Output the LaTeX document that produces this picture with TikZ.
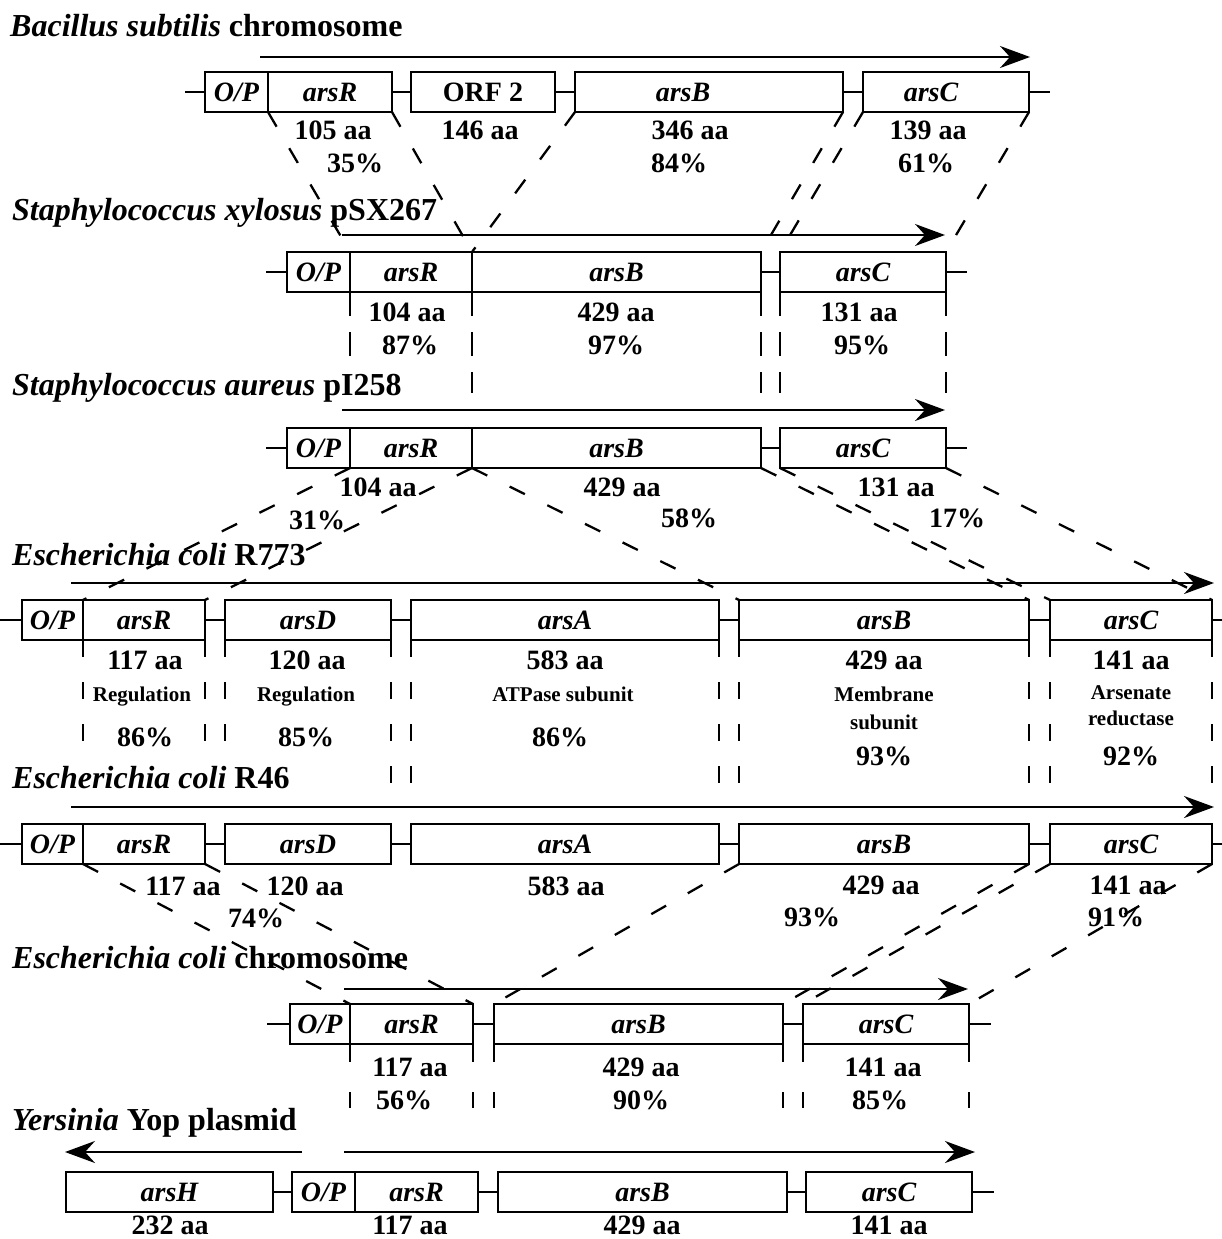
\documentclass[tikz,border=0pt]{standalone}
\usepackage{fontspec}
\setmainfont{Liberation Serif}
\usetikzlibrary{arrows.meta}
\newcommand\genebox[5]{\node[gene,minimum width={#3-#2}] (#1) at ({(#2+#3)/2},#4) {#5};}
\begin{document}
\begin{tikzpicture}[x=1pt,y=-1pt,
 gene/.style={draw,line width=2pt,minimum height=40pt,inner sep=0pt,outer sep=0pt,
   font=\bfseries\itshape\fontsize{28}{30}\selectfont,text height=19pt,text depth=0pt},
 gtext/.style={inner sep=0pt,font=\bfseries\itshape\fontsize{28}{30}\selectfont,text height=19pt,text depth=0pt},
 lab/.style={inner sep=0pt,font=\bfseries\fontsize{28}{30}\selectfont,text height=19pt,text depth=0pt},
 desc/.style={inner sep=0pt,font=\bfseries\fontsize{21}{23}\selectfont,text height=14pt,text depth=0pt},
 ttl/.style={inner sep=0pt,anchor=base west,font=\bfseries\fontsize{32}{34}\selectfont},
 link/.style={line width=2pt},
 arr/.style={line width=2.2pt,-{Stealth[length=30pt,width=22pt,inset=10pt]}},
 hom/.style={line width=2.3pt,dash pattern=on 17pt off 25pt},
 vB/.style={line width=2.3pt,dash pattern=on 24pt off 16pt},
 vD/.style={line width=2.3pt,dash pattern=on 17pt off 25pt},
 vF/.style={line width=2.3pt,dash pattern=on 18pt off 30pt}]
\fill[white] (0,0) rectangle (1222,1239);
\useasboundingbox (0,0) rectangle (1222,1239);

% ---------- Row A: Bacillus subtilis ----------
\node[ttl] (tA) at (10,37) {\textit{Bacillus subtilis} chromosome};
\coordinate (aA0) at (260,57); \coordinate (aA1) at (1030,57);
\draw[arr] (aA0) -- (aA1);
\genebox{aOP}{205}{268}{92}{O/P}
\genebox{aR}{268}{392}{92}{arsR}
\genebox{aORF}{411}{555}{92}{\upshape ORF 2}
\genebox{aB}{575}{843}{92}{}
\genebox{aC}{863}{1029}{92}{}
\node[gtext] (aBt) at (683,92) {arsB};
\node[gtext] (aCt) at (931,92) {arsC};
\coordinate (aL) at (185,92); \coordinate (aE) at (1050,92);
\draw[link] (aL) -- (aOP.west) (aR.east) -- (aORF.west) (aORF.east) -- (aB.west)
  (aB.east) -- (aC.west) (aC.east) -- (aE);
\node[lab] (aRaa) at (333,130) {105 aa};
\node[lab] (aRp) at (355,163) {35\%};
\node[lab] (aOaa) at (480,130) {146 aa};
\node[lab] (aBaa) at (690,130) {346 aa};
\node[lab] (aBp) at (679,163) {84\%};
\node[lab] (aCaa) at (928,130) {139 aa};
\node[lab] (aCp) at (926,163) {61\%};

% ---------- Row B: S. xylosus ----------
\node[ttl] (tB) at (12,220) {\textit{Staphylococcus xylosus} pSX267};
\coordinate (bA0) at (342,235); \coordinate (bA1) at (945,235);
\draw[arr] (bA0) -- (bA1);
\genebox{bOP}{287}{350}{272}{O/P}
\genebox{bR}{350}{472}{272}{arsR}
\genebox{bB}{472}{761}{272}{arsB}
\genebox{bC}{780}{946}{272}{arsC}
\coordinate (bL) at (266,272); \coordinate (bE) at (967,272);
\draw[link] (bL) -- (bOP.west) (bB.east) -- (bC.west) (bC.east) -- (bE);
\node[lab] (bRaa) at (407,312) {104 aa};
\node[lab] (bRp) at (410,345) {87\%};
\node[lab] (bBaa) at (616,312) {429 aa};
\node[lab] (bBp) at (616,345) {97\%};
\node[lab] (bCaa) at (859,312) {131 aa};
\node[lab] (bCp) at (862,345) {95\%};

% ---------- Row C: S. aureus ----------
\node[ttl] (tC) at (12,395) {\textit{Staphylococcus aureus} pI258};
\coordinate (cA0) at (342,410); \coordinate (cA1) at (945,410);
\draw[arr] (cA0) -- (cA1);
\genebox{cOP}{287}{350}{448}{O/P}
\genebox{cR}{350}{472}{448}{arsR}
\genebox{cB}{472}{761}{448}{arsB}
\genebox{cC}{780}{946}{448}{arsC}
\coordinate (cL) at (266,448); \coordinate (cE) at (967,448);
\draw[link] (cL) -- (cOP.west) (cB.east) -- (cC.west) (cC.east) -- (cE);
\node[lab] (cRaa) at (378,487) {104 aa};
\node[lab] (cRp) at (317,520) {31\%};
\node[lab] (cBaa) at (622,487) {429 aa};
\node[lab] (cBp) at (689,518) {58\%};
\node[lab] (cCaa) at (896,487) {131 aa};
\node[lab] (cCp) at (957,518) {17\%};

% ---------- Row D: E. coli R773 ----------
\node[ttl] (tD) at (12,565) {\textit{Escherichia coli} R773};
\coordinate (dA0) at (71,583); \coordinate (dA1) at (1214,583);
\draw[arr] (dA0) -- (dA1);
\genebox{dOP}{22}{83}{620}{O/P}
\genebox{dR}{83}{205}{620}{arsR}
\genebox{dD}{225}{391}{620}{arsD}
\genebox{dA}{411}{719}{620}{arsA}
\genebox{dB}{739}{1029}{620}{arsB}
\genebox{dC}{1050}{1212}{620}{arsC}
\coordinate (dL) at (0,620); \coordinate (dE) at (1222,620);
\draw[link] (dL) -- (dOP.west) (dR.east) -- (dD.west) (dD.east) -- (dA.west)
  (dA.east) -- (dB.west) (dB.east) -- (dC.west) (dC.east) -- (dE);
\node[lab] (dRaa) at (145,660) {117 aa};
\node[desc] (dRd) at (142,694) {Regulation};
\node[lab] (dRp) at (145,737) {86\%};
\node[lab] (dDaa) at (307,660) {120 aa};
\node[desc] (dDd) at (306,694) {Regulation};
\node[lab] (dDp) at (306,737) {85\%};
\node[lab] (dAaa) at (565,660) {583 aa};
\node[desc] (dAd) at (563,694) {ATPase subunit};
\node[lab] (dAp) at (560,737) {86\%};
\node[lab] (dBaa) at (884,660) {429 aa};
\node[desc] (dBd) at (884,694) {Membrane};
\node[desc] (dBd2) at (884,722) {subunit};
\node[lab] (dBp) at (884,756) {93\%};
\node[lab] (dCaa) at (1131,660) {141 aa};
\node[desc] (dCd) at (1131,692) {Arsenate};
\node[desc] (dCd2) at (1131,718) {reductase};
\node[lab] (dCp) at (1131,756) {92\%};

% ---------- Row E: E. coli R46 ----------
\node[ttl] (tE) at (12,788) {\textit{Escherichia coli} R46};
\coordinate (eA0) at (71,807); \coordinate (eA1) at (1214,807);
\draw[arr] (eA0) -- (eA1);
\genebox{eOP}{22}{83}{844}{O/P}
\genebox{eR}{83}{205}{844}{arsR}
\genebox{eD}{225}{391}{844}{arsD}
\genebox{eA}{411}{719}{844}{arsA}
\genebox{eB}{739}{1029}{844}{arsB}
\genebox{eC}{1050}{1212}{844}{arsC}
\coordinate (eL) at (0,844); \coordinate (eE) at (1222,844);
\draw[link] (eL) -- (eOP.west) (eR.east) -- (eD.west) (eD.east) -- (eA.west)
  (eA.east) -- (eB.west) (eB.east) -- (eC.west) (eC.east) -- (eE);
\node[lab] (eRaa) at (183,886) {117 aa};
\node[lab] (eDaa) at (305,886) {120 aa};
\node[lab] (eRp) at (256,918) {74\%};
\node[lab] (eAaa) at (566,886) {583 aa};
\node[lab] (eBaa) at (881,885) {429 aa};
\node[lab] (eBp) at (812,917) {93\%};
\node[lab] (eCaa) at (1128,885) {141 aa};
\node[lab] (eCp) at (1116,917) {91\%};

% ---------- Row F: E. coli chromosome ----------
\node[ttl] (tF) at (12,968) {\textit{Escherichia coli} chromosome};
\coordinate (fA0) at (344,989); \coordinate (fA1) at (968,989);
\draw[arr] (fA0) -- (fA1);
\genebox{fOP}{290}{350}{1024}{O/P}
\genebox{fR}{350}{473}{1024}{arsR}
\genebox{fB}{494}{783}{1024}{arsB}
\genebox{fC}{803}{969}{1024}{arsC}
\coordinate (fL) at (267,1024); \coordinate (fE) at (991,1024);
\draw[link] (fL) -- (fOP.west) (fR.east) -- (fB.west) (fB.east) -- (fC.west) (fC.east) -- (fE);
\node[lab] (fRaa) at (410,1067) {117 aa};
\node[lab] (fRp) at (404,1100) {56\%};
\node[lab] (fBaa) at (641,1067) {429 aa};
\node[lab] (fBp) at (641,1100) {90\%};
\node[lab] (fCaa) at (883,1067) {141 aa};
\node[lab] (fCp) at (880,1100) {85\%};

% ---------- Row G: Yersinia ----------
\node[ttl] (tG) at (12,1130) {\textit{Yersinia} Yop plasmid};
\coordinate (gA0) at (302,1152); \coordinate (gA1) at (65,1152);
\coordinate (gB0) at (344,1152); \coordinate (gB1) at (975,1152);
\draw[arr] (gA0) -- (gA1);
\draw[arr] (gB0) -- (gB1);
\genebox{gH}{66}{273}{1192}{arsH}
\genebox{gOP}{292}{355}{1192}{O/P}
\genebox{gR}{355}{478}{1192}{arsR}
\genebox{gB}{498}{787}{1192}{arsB}
\genebox{gC}{806}{972}{1192}{arsC}
\coordinate (gE) at (994,1192);
\draw[link] (gH.east) -- (gOP.west) (gR.east) -- (gB.west) (gB.east) -- (gC.west) (gC.east) -- (gE);
\node[lab] (gHaa) at (170,1225) {232 aa};
\node[lab] (gRaa) at (410,1225) {117 aa};
\node[lab] (gBaa) at (642,1225) {429 aa};
\node[lab] (gCaa) at (889,1225) {141 aa};

% ---------- homology lines ----------
\draw[hom] (aR.south west) -- (bR.north west);
\draw[hom] (aR.south east) -- (bR.north east);
\draw[hom] (aB.south west) -- (bB.north west);
\draw[hom] (aB.south east) -- (bB.north east);
\draw[hom] (aC.south west) -- (bC.north west);
\draw[hom] (aC.south east) -- (bC.north east);

\coordinate (bv1) at (350,357); \coordinate (bv2) at (472,393);
\coordinate (bv3) at (761,393); \coordinate (bv4) at (780,393); \coordinate (bv5) at (946,393);
\draw[vB] (bR.south west) -- (bv1);
\draw[vB] (bR.south east) -- (bv2);
\draw[vB] (bB.south east) -- (bv3);
\draw[vB] (bC.south west) -- (bv4);
\draw[vB] (bC.south east) -- (bv5);

\draw[hom] (cR.south west) -- (dR.north west);
\draw[hom] (cR.south east) -- (dR.north east);
\draw[hom] (cB.south west) -- (dB.north west);
\draw[hom] (cB.south east) -- (dB.north east);
\draw[hom] (cC.south west) -- (dC.north west);
\draw[hom] (cC.south east) -- (dC.north east);

\coordinate (dv1) at (83,745); \coordinate (dv2) at (205,745); \coordinate (dv3) at (225,745);
\coordinate (dv4) at (391,785); \coordinate (dv5) at (411,785); \coordinate (dv6) at (719,785);
\coordinate (dv7) at (739,785); \coordinate (dv8) at (1029,785); \coordinate (dv9) at (1050,785);
\coordinate (dv10) at (1212,785);
\draw[vD] (dR.south west) -- (dv1);
\draw[vD] (dR.south east) -- (dv2);
\draw[vD] (dD.south west) -- (dv3);
\draw[vD] (dD.south east) -- (dv4);
\draw[vD] (dA.south west) -- (dv5);
\draw[vD] (dA.south east) -- (dv6);
\draw[vD] (dB.south west) -- (dv7);
\draw[vD] (dB.south east) -- (dv8);
\draw[vD] (dC.south west) -- (dv9);
\draw[vD] (dC.south east) -- (dv10);

\draw[hom] (eR.south west) -- (fR.north west);
\draw[hom] (eR.south east) -- (fR.north east);
\draw[hom] (eB.south west) -- (fB.north west);
\draw[hom] (eB.south east) -- (fB.north east);
\draw[hom] (eC.south west) -- (fC.north west);
\draw[hom] (eC.south east) -- (fC.north east);

\coordinate (fv1) at (350,1108); \coordinate (fv2) at (473,1108); \coordinate (fv3) at (494,1108);
\coordinate (fv4) at (783,1108); \coordinate (fv5) at (803,1108); \coordinate (fv6) at (969,1108);
\draw[vF] (fR.south west) -- (fv1);
\draw[vF] (fR.south east) -- (fv2);
\draw[vF] (fB.south west) -- (fv3);
\draw[vF] (fB.south east) -- (fv4);
\draw[vF] (fC.south west) -- (fv5);
\draw[vF] (fC.south east) -- (fv6);
\end{tikzpicture}
\end{document}
